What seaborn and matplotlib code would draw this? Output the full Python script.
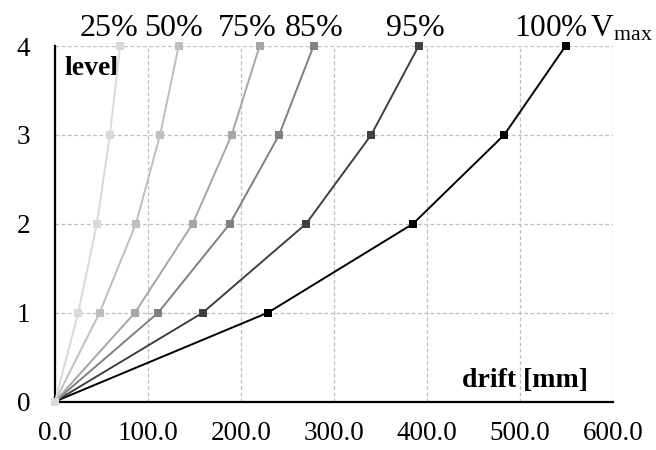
import matplotlib
matplotlib.use("Agg")
import matplotlib.pyplot as plt
import seaborn as sns
import pandas as pd

levels = [0, 1, 2, 3, 4]
load_labels = ["25%", "50%", "75%", "85%", "95%", "100%"]
drift_25 = [0.0, 25.0, 45.0, 59.0, 70.0]
drift_50 = [0.0, 48.0, 87.0, 113.0, 133.0]
drift_75 = [0.0, 86.0, 148.0, 190.0, 220.0]
drift_85 = [0.0, 111.0, 188.0, 241.0, 278.0]
drift_95 = [0.0, 159.0, 270.0, 340.0, 391.0]
drift_100 = [0.0, 229.0, 385.0, 483.0, 549.0]
colors = ["#d9d9d9", "#bfbfbf", "#a6a6a6", "#808080", "#404040", "#000000"]
x_ticks = [0, 100, 200, 300, 400, 500, 600]
y_ticks = [0, 1, 2, 3, 4]

series = [drift_25, drift_50, drift_75, drift_85, drift_95, drift_100]
rows = []
for lab, d in zip(load_labels, series):
    for lv, x in zip(levels, d):
        rows.append({"load": lab, "drift": x, "level": lv})
df = pd.DataFrame(rows)

sns.set_style("white")
plt.rcParams["font.family"] = ["Liberation Serif", "DejaVu Serif"]
plt.rcParams["mathtext.fontset"] = "custom"
plt.rcParams["mathtext.rm"] = "Liberation Serif"
plt.rcParams["mathtext.it"] = "Liberation Serif:italic"
plt.rcParams["mathtext.bf"] = "Liberation Serif:bold"
plt.rcParams["text.color"] = "black"

fig = plt.figure(figsize=(6.56, 4.5), dpi=100)
ax = fig.add_axes([55 / 656, 1 - 401.5 / 450, (613 - 55) / 656, (401.5 - 46) / 450])

for i in reversed(range(len(load_labels))):
    sub = df[df["load"] == load_labels[i]]
    sns.lineplot(data=sub, x="drift", y="level", ax=ax, color=colors[i],
                 marker="s", markersize=6, markeredgewidth=0, linewidth=1.4,
                 estimator=None, sort=False, clip_on=False, zorder=3 + (5 - i))

ax.set_xlim(0, 600)
ax.set_ylim(0, 4)
ax.set_xticks(x_ticks)
ax.set_xticklabels([f"{v:.1f}" for v in x_ticks])
ax.set_yticks(y_ticks)
ax.set_yticklabels([str(v) for v in y_ticks])
ax.tick_params(axis="both", length=0, labelsize=19.5, colors="black")
ax.tick_params(axis="x", pad=14)
ax.tick_params(axis="y", pad=18)
ax.set_xlabel("")
ax.set_ylabel("")

ax.grid(True, linestyle=(0, (3, 2)), color="#bfbfbf", linewidth=0.9)
ax.set_axisbelow(True)
for s in ["top", "right"]:
    ax.spines[s].set_visible(False)
for s in ["left", "bottom"]:
    ax.spines[s].set_color("black")
    ax.spines[s].set_linewidth(1.6)
    ax.spines[s].set_zorder(2.5)

label_x = [58, 127, 207, 278.5, 387]
for lab, lx in zip(load_labels[:5], label_x):
    ax.text(lx, 4.11, lab, ha="center", va="baseline", fontsize=23, clip_on=False)
ax.text(494, 4.11, r"100%$\,\mathrm{V}_{\mathrm{max}}$", ha="left", va="baseline",
        fontsize=22.5, clip_on=False)

ax.text(10.5, 3.67, "level", ha="left", va="baseline", fontsize=20, fontweight="bold")
ax.text(573, 0.167, "drift [mm]", ha="right", va="baseline", fontsize=20, fontweight="bold")

fig.savefig("out.png", dpi=100)
